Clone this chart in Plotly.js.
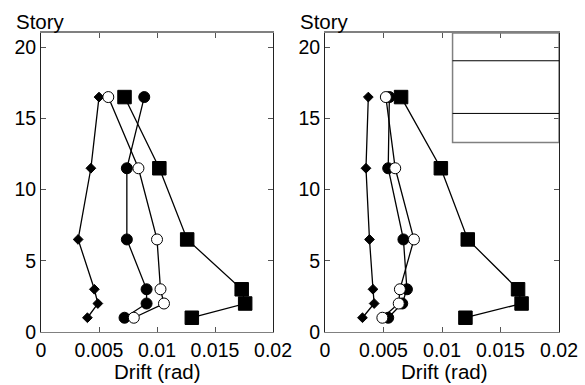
<!DOCTYPE html>
<html>
<head>
<meta charset="utf-8">
<script src="https://cdn.plot.ly/plotly-3.0.1.min.js"></script>
<style>html,body{margin:0;padding:0;background:#fff;}#chart{width:585px;height:385px;}</style>
</head>
<body>
<div id="chart"></div>
<script>
// Story levels
var stories = [1, 2, 3, 6.5, 11.5, 16.5];

// Left panel drift values (rad)
var leftDiamond = [0.0040, 0.0049, 0.0046, 0.0032, 0.0043, 0.0050];
var leftOpenCircle = [0.0080, 0.0106, 0.0103, 0.0100, 0.0084, 0.0058];
var leftFilledCircle = [0.0072, 0.0091, 0.0091, 0.0074, 0.0074, 0.0089];
var leftSquare = [0.0130, 0.0176, 0.0173, 0.0126, 0.0102, 0.0072];

// Right panel drift values (rad)
var rightDiamond = [0.0032, 0.0042, 0.0041, 0.0038, 0.0035, 0.0037];
var rightFilledCircle = [0.0054, 0.0066, 0.0070, 0.0067, 0.0054, 0.0055];
var rightOpenCircle = [0.0049, 0.0063, 0.0064, 0.0076, 0.0060, 0.0052];
var rightSquare = [0.0120, 0.0168, 0.0165, 0.0122, 0.0099, 0.0065];

// Empty legend box in right panel (data coords)
var boxX = [0.0109, 0.02];
var boxY = [13.3, 21];
var boxLines = [15.35, 19.05];

var xTicks = [0, 0.005, 0.01, 0.015, 0.02];
var xTickText = ['0', '0.005', '0.01', '0.015', '0.02'];
var yTicks = [0, 5, 10, 15, 20];

function tr(x, sym, size, fill, xa, ya, name) {
  return {
    x: x, y: stories, type: 'scatter', mode: 'lines+markers', name: name,
    xaxis: xa, yaxis: ya, cliponaxis: false,
    line: {color: '#000', width: 1.3},
    marker: {symbol: sym, size: size, color: fill, line: {color: '#000', width: 1}}
  };
}

var data = [
  tr(leftDiamond, 'diamond', 7.5, '#000', 'x', 'y', 'Diamond'),
  tr(leftSquare, 'square', 13.5, '#000', 'x', 'y', 'Square'),
  tr(leftFilledCircle, 'circle', 11, '#000', 'x', 'y', 'Filled circle'),
  tr(leftOpenCircle, 'circle', 11, '#fff', 'x', 'y', 'Open circle'),
  tr(rightDiamond, 'diamond', 7.5, '#000', 'x2', 'y2', 'Diamond'),
  tr(rightSquare, 'square', 13.5, '#000', 'x2', 'y2', 'Square'),
  tr(rightFilledCircle, 'circle', 11, '#000', 'x2', 'y2', 'Filled circle'),
  tr(rightOpenCircle, 'circle', 11, '#fff', 'x2', 'y2', 'Open circle')
];

var tickFont = {family: 'Liberation Sans, Arial, sans-serif', size: 19.5, color: '#000'};
var titleFont = {family: 'Liberation Sans, Arial, sans-serif', size: 20.5, color: '#000'};

function xax(dom, anchor) {
  return {
    domain: dom, anchor: anchor, range: [0, 0.02], tickvals: xTicks, ticktext: xTickText,
    ticks: 'inside', ticklen: 5, tickcolor: '#555', tickwidth: 1,
    showline: true, linecolor: '#808080', linewidth: 1.5, mirror: 'ticks',
    showgrid: false, zeroline: false, tickfont: tickFont, automargin: false, fixedrange: true
  };
}
function yax(anchor) {
  return {
    domain: [0.1377, 0.9143], anchor: anchor, range: [0, 21], tickvals: yTicks,
    ticks: 'inside', ticklen: 5, tickcolor: '#555', tickwidth: 1,
    showline: true, linecolor: '#222', linewidth: 1, mirror: 'ticks',
    showgrid: false, zeroline: false, tickfont: tickFont, automargin: false, fixedrange: true
  };
}

var shapes = [{
  type: 'rect', xref: 'x2', yref: 'y2', x0: boxX[0], x1: boxX[1], y0: boxY[0], y1: boxY[1],
  line: {color: '#808080', width: 1.5}, fillcolor: 'rgba(0,0,0,0)'
}];
boxLines.forEach(function (v) {
  shapes.push({type: 'line', xref: 'x2', yref: 'y2', x0: boxX[0], x1: boxX[1], y0: v, y1: v,
    line: {color: '#000', width: 1}});
});

var layout = {
  width: 585, height: 385,
  margin: {l: 0, r: 0, t: 0, b: 0},
  paper_bgcolor: '#fff', plot_bgcolor: '#fff',
  showlegend: false,
  font: tickFont,
  xaxis: xax([0.0701, 0.4667], 'y'),
  yaxis: yax('x'),
  xaxis2: xax([0.5556, 0.9556], 'y2'),
  yaxis2: yax('x2'),
  shapes: shapes,
  annotations: [
    {text: 'Story', xref: 'paper', yref: 'paper', x: 14 / 585, y: 1 - 21 / 385, xanchor: 'left', yanchor: 'middle', showarrow: false, font: titleFont},
    {text: 'Story', xref: 'paper', yref: 'paper', x: 298 / 585, y: 1 - 21 / 385, xanchor: 'left', yanchor: 'middle', showarrow: false, font: titleFont},
    {text: 'Drift (rad)', xref: 'paper', yref: 'paper', x: 157 / 585, y: 1 - 371 / 385, xanchor: 'center', yanchor: 'middle', showarrow: false, font: titleFont},
    {text: 'Drift (rad)', xref: 'paper', yref: 'paper', x: 444 / 585, y: 1 - 371 / 385, xanchor: 'center', yanchor: 'middle', showarrow: false, font: titleFont}
  ]
};

Plotly.newPlot('chart', data, layout, {staticPlot: true, displayModeBar: false});
</script>
</body>
</html>
